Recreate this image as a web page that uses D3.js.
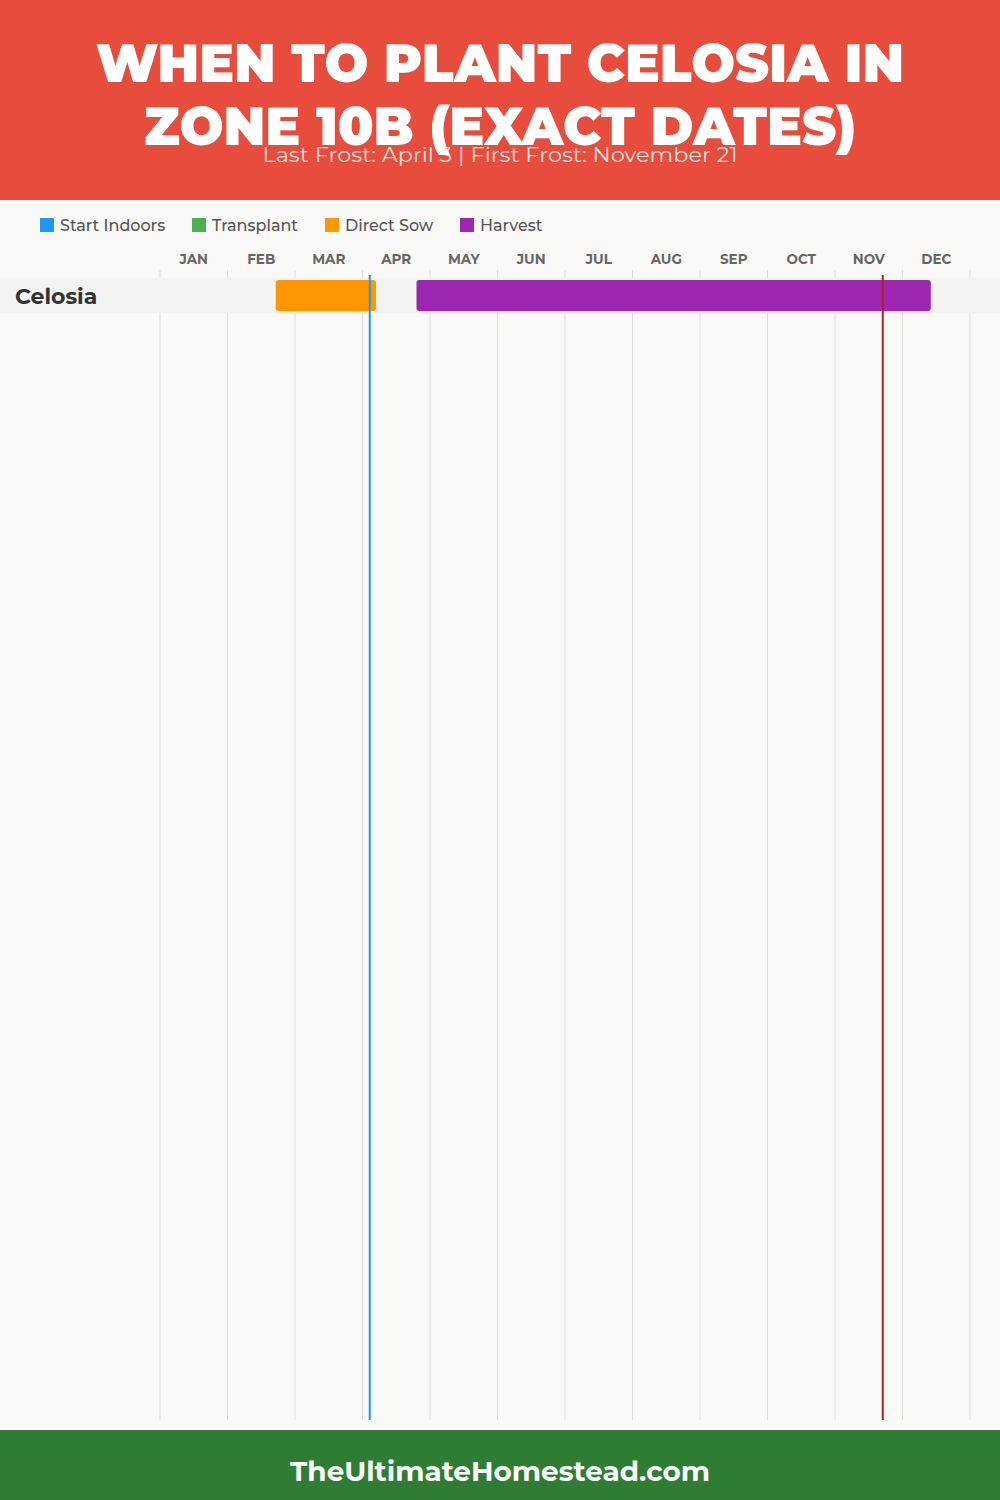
<!DOCTYPE html>
<html>
<head>
<meta charset="utf-8">
<script src="https://cdn.jsdelivr.net/npm/d3@7"></script>
<style>
  body { margin: 0; background: #f9f9f7; }
  svg { display: block; font-family: "Montserrat", Inter, "Open Sans", sans-serif; }
</style>
</head>
<body>
<svg id="chart" width="1000" height="1500"></svg>
<script>
// data
var titleLines = ["WHEN TO PLANT CELOSIA IN", "ZONE 10B (EXACT DATES)"]
var subtitle = "Last Frost: April 3 | First Frost: November 21"
var months = ["JAN","FEB","MAR","APR","MAY","JUN","JUL","AUG","SEP","OCT","NOV","DEC"]
var monthDays = [31,28,31,30,31,30,31,31,30,31,30,31]
var legendKeys = ["Start Indoors","Transplant","Direct Sow","Harvest"]
var legendColors = ["#2196F3","#4CAF50","#FF9800","#9C27B0"]
var plants = ["Celosia"]
// [plant, phase, start [month, day], end [month, day]]
var phases = [
  ["Celosia", "Direct Sow", [2, 20], [4, 6]],
  ["Celosia", "Harvest", [4, 24], [12, 13]]
]
var frostLines = [
  {name: "Last Frost", date: [4, 3], color: "#2196F3"},
  {name: "First Frost", date: [11, 21], color: "#B71C1C"}
]
var footer = "TheUltimateHomestead.com"

var svg = d3.select("#chart")
var W = 1000, H = 1500
var margin = {left: 160, right: 30, top: 270, bottom: 80}

var color = d3.scaleOrdinal().domain(legendKeys).range(legendColors)

// month position: month index + fraction of month
var toMonths = function(md) { return (md[0] - 1) + md[1] / monthDays[md[0] - 1] }

var xScale = d3.scaleLinear().domain([0, 12]).range([margin.left, W - margin.right])
var yScale = d3.scaleBand().domain(plants).range([278, 278 + 35 * plants.length])

// background
svg.append("rect").attr("width", W).attr("height", H).attr("fill", "#f9f9f7")

// header
svg.append("rect").attr("width", W).attr("height", 200).attr("fill", "#E74C3C")
svg.selectAll(".title")
  .data(titleLines)
  .enter()
  .append("text")
    .attr("class", "title")
    .attr("x", W / 2)
    .attr("y", function(d, i) { return 82 + i * 63 })
    .attr("text-anchor", "middle")
    .attr("textLength", function(d, i) { return i == 0 ? 808 : 712 })
    .attr("lengthAdjust", "spacingAndGlyphs")
    .style("font-size", "54px")
    .style("font-weight", 900)
    .style("fill", "#fff")
    .text(function(d) { return d })

svg.append("text")
  .attr("x", W / 2)
  .attr("y", 162)
  .attr("text-anchor", "middle")
  .attr("textLength", 475)
  .attr("lengthAdjust", "spacingAndGlyphs")
  .style("font-size", "21px")
  .style("fill", "rgba(255,255,255,0.85)")
  .text(subtitle)

// legend
var legend = svg.append("g")
var lx = [40, 192, 325, 460]
legend.selectAll("rect")
  .data(legendKeys)
  .enter()
  .append("rect")
    .attr("x", function(d, i) { return lx[i] })
    .attr("y", 218)
    .attr("width", 14)
    .attr("height", 14)
    .attr("fill", function(d) { return color(d) })
legend.selectAll("text")
  .data(legendKeys)
  .enter()
  .append("text")
    .attr("x", function(d, i) { return lx[i] + 20 })
    .attr("y", 231)
    .style("font-size", "16px")
    .style("font-weight", 500)
    .style("fill", "#555")
    .text(function(d) { return d })

// month gridlines
svg.append("g").selectAll("line")
  .data(d3.range(13))
  .enter()
  .append("line")
    .attr("x1", function(d) { return xScale(d) })
    .attr("x2", function(d) { return xScale(d) })
    .attr("y1", margin.top)
    .attr("y2", H - margin.bottom)
    .attr("stroke", "#dddddd")
    .attr("stroke-width", 1)

svg.append("g").selectAll("text")
  .data(months)
  .enter()
  .append("text")
    .attr("x", function(d, i) { return xScale(i + 0.5) })
    .attr("y", 264)
    .attr("text-anchor", "middle")
    .style("font-size", "13.5px")
    .style("font-weight", 700)
    .style("fill", "#666")
    .text(function(d) { return d })

// rows
var rows = svg.append("g")
rows.selectAll("rect")
  .data(plants)
  .enter()
  .append("rect")
    .attr("x", 0)
    .attr("y", function(d) { return yScale(d) })
    .attr("width", W)
    .attr("height", yScale.bandwidth())
    .attr("fill", "#f3f3f2")
rows.selectAll("text")
  .data(plants)
  .enter()
  .append("text")
    .attr("x", 15)
    .attr("y", function(d) { return yScale(d) + yScale.bandwidth() / 2 + 8 })
    .style("font-size", "22px")
    .style("font-weight", 700)
    .style("fill", "#333")
    .text(function(d) { return d })

// bars
svg.append("g").selectAll("rect")
  .data(phases)
  .enter()
  .append("rect")
    .attr("x", function(d) { return xScale(toMonths(d[2])) })
    .attr("y", function(d) { return yScale(d[0]) + 2 })
    .attr("width", function(d) { return xScale(toMonths(d[3])) - xScale(toMonths(d[2])) })
    .attr("height", yScale.bandwidth() - 4)
    .attr("rx", 3)
    .attr("fill", function(d) { return color(d[1]) })
  .append("title")
    .text(function(d) { return d[1] })

// frost lines
svg.append("g").selectAll("line")
  .data(frostLines)
  .enter()
  .append("line")
    .attr("x1", function(d) { return xScale(toMonths(d.date)) + 0.5 })
    .attr("x2", function(d) { return xScale(toMonths(d.date)) + 0.5 })
    .attr("y1", 275)
    .attr("y2", H - margin.bottom)
    .attr("stroke", function(d) { return d.color })
    .attr("stroke-width", 2)

// footer
svg.append("rect").attr("y", 1430).attr("width", W).attr("height", 70).attr("fill", "#2E7D32")
svg.append("text")
  .attr("x", W / 2)
  .attr("y", 1481)
  .attr("text-anchor", "middle")
  .attr("textLength", 420)
  .attr("lengthAdjust", "spacingAndGlyphs")
  .style("font-size", "28px")
  .style("font-weight", 700)
  .style("fill", "#fff")
  .text(footer)
</script>
</body>
</html>
